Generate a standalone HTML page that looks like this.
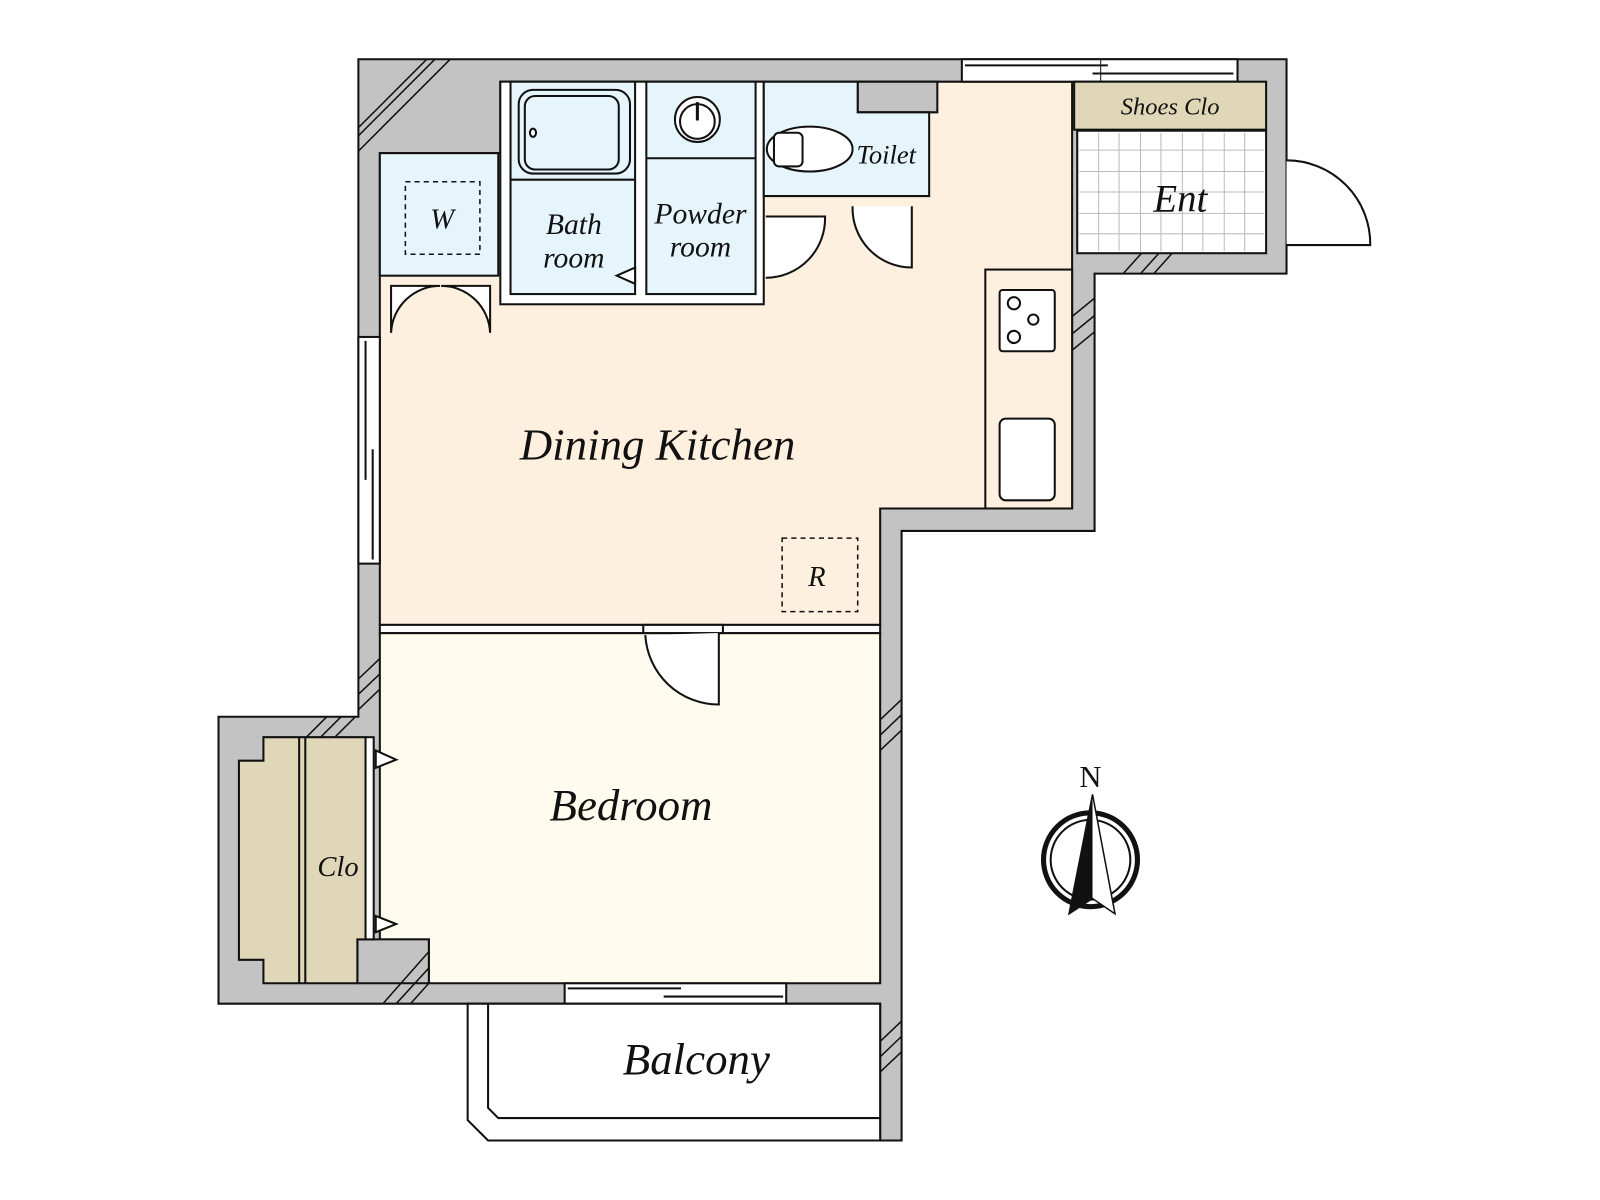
<!DOCTYPE html>
<html><head><meta charset="utf-8"><style>
html,body{margin:0;padding:0;background:#fff;}
svg{display:block;}
text{font-family:"Liberation Serif",serif;font-style:italic;fill:#111;}
</style></head><body>
<svg width="1600" height="1200" viewBox="0 0 1567 1175.25" xmlns="http://www.w3.org/2000/svg">
<g stroke="#111" stroke-width="2">
<polygon fill="#c3c3c3" points="351,58 1260,58 1260,268 1072,268 1072,520 883,520 883,1117 862,1117 862,983 214,983 214,702 351,702"/>
<polygon fill="#fdf0de" points="372,150 490,150 490,80 1050,80 1050,498 862,498 862,612 372,612"/>
<polygon fill="#c3c3c3" points="840,80 918,80 918,110 840,110"/>
<rect x="942" y="58" width="270" height="22" fill="#fff"/>
<line x1="945" y1="64" x2="1085" y2="64"/><line x1="1070" y1="72" x2="1208" y2="72"/>
<line x1="1078" y1="58" x2="1078" y2="80" stroke-width="1"/>
<rect x="351" y="330" width="21" height="222" fill="#fff"/>
<line x1="358" y1="334" x2="358" y2="470"/><line x1="365" y1="440" x2="365" y2="548"/>
<polygon fill="#fffcef" points="372,620 862,620 862,963 420,963 420,920 372,920"/>
<polygon fill="#c3c3c3" points="350,920 420,920 420,963 350,963"/>
<rect x="372" y="612" width="490" height="8" fill="#fff"/>
<rect x="630" y="612" width="78" height="8" fill="#fff"/>
<path d="M632,622 A72,72 0 0 0 704,690 L704,620" fill="#fff"/>
<polygon fill="#e0d6b8" points="258,722 358,722 358,920 350,920 350,963 258,963 258,940 234,940 234,745 258,745"/>
<line x1="293" y1="722" x2="293" y2="963"/><line x1="299" y1="722" x2="299" y2="963"/>
<rect x="358" y="722" width="8" height="198" fill="#fff"/>
<polygon points="368,735 388,744 368,752" fill="#fff"/>
<polygon points="368,897 388,905 368,913" fill="#fff"/>
<rect x="553" y="963" width="217" height="20" fill="#fff"/>
<line x1="556" y1="968" x2="667" y2="968"/><line x1="650" y1="976" x2="767" y2="976"/>
<polygon fill="#fff" points="458,983 862,983 862,1117 478,1117 458,1097"/>
<polyline fill="none" points="478,983 478,1085 488,1095 862,1095"/>
<rect x="490" y="80" width="258" height="218" fill="#fff"/>
<rect x="500" y="80" width="122" height="208" fill="#e6f4fc"/>
<line x1="500" y1="176" x2="622" y2="176"/>
<rect x="508" y="88" width="109" height="82" rx="14" fill="#e6f4fc"/>
<rect x="514" y="94" width="92" height="72" rx="10" fill="none"/>
<ellipse cx="522" cy="130" rx="3" ry="4" fill="#fff"/>
<polygon points="622,262 604,270 622,278" fill="#fff"/>
<rect x="633" y="80" width="107" height="208" fill="#e6f4fc"/>
<line x1="633" y1="155" x2="740" y2="155"/>
<circle cx="683" cy="117" r="22" fill="#fff"/><circle cx="683" cy="119" r="17" fill="none"/>
<line x1="683" y1="100" x2="683" y2="118" stroke-width="3"/>
<path d="M750,272 A58,58 0 0 0 808,212 L750,212" fill="#fff"/>
<polygon fill="#e6f4fc" points="748,80 840,80 840,110 910,110 910,192 748,192"/>
<ellipse cx="793" cy="146" rx="42" ry="22" fill="#fff"/>
<rect x="758" y="130" width="28" height="33" rx="5" fill="#fff"/>
<path d="M835,202 A58,58 0 0 0 893,262 L893,202" fill="#fff"/>
<rect x="372" y="150" width="116" height="120" fill="#e6f4fc"/>
<rect x="397" y="178" width="73" height="71" fill="none" stroke-dasharray="5,4" stroke-width="1.5"/>
<path d="M383,280 L383,326 A48,48 0 0 1 431,280 Z M480,280 L480,326 A48,48 0 0 0 432,280 Z" fill="#fff"/>
<rect x="766" y="527" width="74" height="72" fill="none" stroke-dasharray="5,4" stroke-width="1.5"/>
<rect x="965" y="264" width="85" height="234" fill="#fdf0de"/>
<rect x="979" y="284" width="54" height="60" rx="3" fill="#fff"/>
<circle cx="993" cy="297" r="6" fill="none"/><circle cx="1012" cy="313" r="5" fill="none"/><circle cx="993" cy="330" r="6" fill="none"/>
<rect x="979" y="410" width="54" height="80" rx="6" fill="#fff"/>
<rect x="1052" y="80" width="188" height="47" fill="#e0d6b8"/>
<rect x="1055" y="128" width="185" height="120" fill="#fff"/>
<path d="M1260,157 A82,82 0 0 1 1342,240 L1260,240" fill="#fff"/>
</g>
<g stroke="#bbb" stroke-width="1">
<line x1="1076" y1="130" x2="1076" y2="246"/><line x1="1096" y1="130" x2="1096" y2="246"/><line x1="1117" y1="130" x2="1117" y2="246"/><line x1="1137" y1="130" x2="1137" y2="246"/><line x1="1158" y1="130" x2="1158" y2="246"/><line x1="1178" y1="130" x2="1178" y2="246"/><line x1="1199" y1="130" x2="1199" y2="246"/><line x1="1219" y1="130" x2="1219" y2="246"/>
<line x1="1057" y1="147" x2="1238" y2="147"/><line x1="1057" y1="168" x2="1238" y2="168"/><line x1="1057" y1="188" x2="1238" y2="188"/><line x1="1057" y1="209" x2="1238" y2="209"/><line x1="1057" y1="229" x2="1238" y2="229"/>
</g>
<g stroke="#111" stroke-width="1.5">
<line x1="351" y1="125" x2="418" y2="58"/><line x1="351" y1="133" x2="426" y2="58"/><line x1="351" y1="148" x2="441" y2="58"/>
<line x1="1100" y1="268" x2="1118" y2="248"/><line x1="1117" y1="268" x2="1135" y2="248"/><line x1="1130" y1="268" x2="1148" y2="248"/>
<line x1="1050" y1="310" x2="1072" y2="292"/><line x1="1050" y1="327" x2="1072" y2="309"/><line x1="1050" y1="343" x2="1072" y2="325"/>
<line x1="351" y1="665" x2="372" y2="645"/><line x1="351" y1="680" x2="372" y2="660"/><line x1="351" y1="695" x2="372" y2="675"/>
<line x1="300" y1="722" x2="320" y2="702"/><line x1="314" y1="722" x2="334" y2="702"/><line x1="328" y1="722" x2="348" y2="702"/>
<line x1="375" y1="983" x2="420" y2="932"/><line x1="388" y1="983" x2="420" y2="948"/><line x1="402" y1="983" x2="420" y2="963"/>
<line x1="862" y1="705" x2="883" y2="685"/><line x1="862" y1="720" x2="883" y2="700"/><line x1="862" y1="735" x2="883" y2="715"/>
<line x1="862" y1="1020" x2="883" y2="1000"/><line x1="862" y1="1035" x2="883" y2="1015"/><line x1="862" y1="1050" x2="883" y2="1030"/>
</g>
<g>
<circle cx="1068" cy="842" r="46" fill="none" stroke="#111" stroke-width="5"/>
<circle cx="1068" cy="842" r="39" fill="none" stroke="#111" stroke-width="2"/>
<polygon points="1070,778 1092,895 1070,880 1047,895" fill="#fff" stroke="#111" stroke-width="1.5"/>
<polygon points="1070,778 1047,895 1070,880" fill="#111"/>
<text x="1068" y="771" font-size="30" text-anchor="middle" style="font-style:normal">N</text>
</g>
<text x="644" y="450" font-size="44" text-anchor="middle">Dining Kitchen</text>
<text x="618" y="803" font-size="44" text-anchor="middle">Bedroom</text>
<text x="682" y="1052" font-size="44" text-anchor="middle">Balcony</text>
<text x="1156" y="207" font-size="38" text-anchor="middle">Ent</text>
<text x="1146" y="112" font-size="24" text-anchor="middle">Shoes Clo</text>
<text x="868" y="160" font-size="26" text-anchor="middle">Toilet</text>
<text x="562" y="229" font-size="29" text-anchor="middle">Bath</text>
<text x="562" y="262" font-size="29" text-anchor="middle">room</text>
<text x="686" y="219" font-size="29" text-anchor="middle">Powder</text>
<text x="686" y="251" font-size="29" text-anchor="middle">room</text>
<text x="433" y="224" font-size="28" text-anchor="middle">W</text>
<text x="800" y="574" font-size="28" text-anchor="middle">R</text>
<text x="331" y="858" font-size="28" text-anchor="middle">Clo</text>
</svg>
</body></html>
